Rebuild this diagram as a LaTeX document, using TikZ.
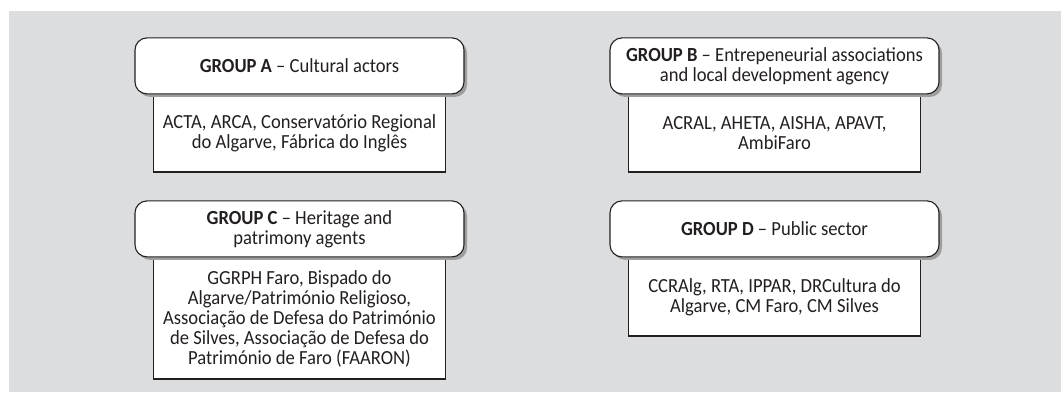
\documentclass[tikz,border=0pt]{standalone}
\usepackage{fontspec}
\setmainfont[FakeStretch=0.93]{Carlito}
\usetikzlibrary{positioning,shadows}
\definecolor{panel}{HTML}{DCDDDF}
\definecolor{shade}{HTML}{9E9E9E}
\definecolor{ink}{HTML}{231F20}
\tikzset{
  txt/.style={font=\fontsize{20}{20}\selectfont, text=ink, align=center, inner sep=0pt},
  groupbox/.style={txt, draw=ink, line width=1.1pt, fill=white, rounded corners=12pt,
    minimum width=329pt, minimum height=56pt,
    drop shadow={shadow xshift=3pt, shadow yshift=-3pt, opacity=1, fill=shade}},
  memberbox/.style={txt, draw=ink, line width=1.1pt, fill=white, minimum width=292pt}
}
\begin{document}
\begin{tikzpicture}[x=1pt, y=-1pt]
  \useasboundingbox (0,0) rectangle (1061,392);
  \fill[panel] (9,11) rectangle (1061,392);
  % member lists first, group headers on top
  \node[memberbox, minimum height=77pt] (listA) at (299.5,133.5) {ACTA, ARCA, Conservatório Regional\\do Algarve, Fábrica do Inglês};
  \node[memberbox, minimum height=77pt] (listB) at (774.5,133.5) {ACRAL, AHETA, AISHA, APAVT,\\AmbiFaro};
  \node[memberbox, minimum height=121pt] (listC) at (299.5,318.5) {GGRPH Faro, Bispado do\\Algarve/Património Religioso,\\Associação de Defesa do Património\\de Silves, Associação de Defesa do\\Património de Faro (FAARON)};
  \node[memberbox, minimum height=78pt] (listD) at (774.5,297) {CCRAlg, RTA, IPPAR, DRCultura do\\Algarve, CM Faro, CM Silves};
  \node[groupbox, above=0pt of listA] (groupA) {\textbf{GROUP A} -- Cultural actors};
  \node[groupbox, above=0pt of listB] (groupB) {\textbf{GROUP B} -- Entrepeneurial associations\\and local development agency};
  \node[groupbox, above=0pt of listC] (groupC) {\textbf{GROUP C} -- Heritage and\\patrimony agents};
  \node[groupbox, above=0pt of listD] (groupD) {\textbf{GROUP D} -- Public sector};
\end{tikzpicture}
\end{document}
